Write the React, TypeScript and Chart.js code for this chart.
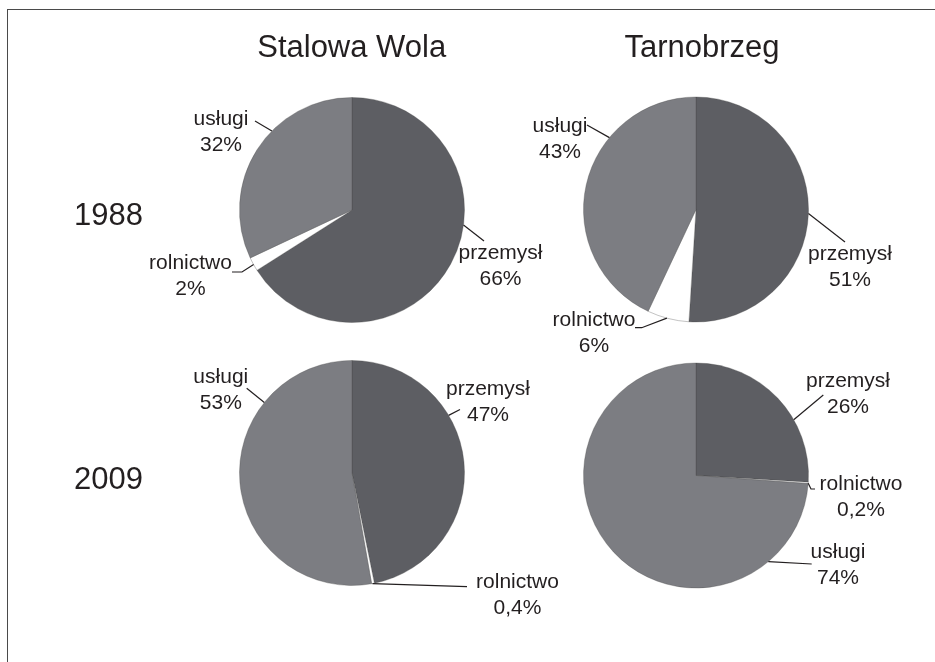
import React, { useEffect, useRef } from "react";
import { Chart, registerables } from "chart.js";

Chart.register(...registerables);

// ---------- data ----------
const sectors = ["przemysł", "rolnictwo", "usługi"];
const cities = ["Stalowa Wola", "Tarnobrzeg"];
const years = ["1988", "2009"];
const stalowaWola1988 = [66, 2, 32];
const tarnobrzeg1988 = [51, 6, 43];
const stalowaWola2009 = [47, 0.4, 53];
const tarnobrzeg2009 = [26, 0.2, 74];

const pies = [stalowaWola1988, tarnobrzeg1988, stalowaWola2009, tarnobrzeg2009];

// ---------- layout / style ----------
const W = 935;
const H = 662;
const R = 112.5;
const pieCenters: [number, number][] = [
  [352, 210],
  [696, 209.5],
  [352, 473],
  [696, 475.5],
];
const sliceColors = ["#5d5e63", "#ffffff", "#7c7d82"];
const TEXT = "#231f20";
const FONT = '"Liberation Sans", Arial, Helvetica, sans-serif';
const PCT_GAP = 25.8;

type Lbl = { x: number; y: number; angle: number; pts: [number, number][] };
// per pie: przemysł, rolnictwo, usługi
const labelLayout: Lbl[][] = [
  [
    { x: 500.5, y: 259, angle: 97.7, pts: [[484, 241]] },
    { x: 190.5, y: 269, angle: 241, pts: [[242, 272], [232, 272]] },
    { x: 221, y: 125, angle: 314.6, pts: [[255, 121]] },
  ],
  [
    { x: 850, y: 260, angle: 92, pts: [[845, 242]] },
    { x: 594, y: 326, angle: 195, pts: [[641.7, 327.7], [635, 327.7]] },
    { x: 560, y: 132, angle: 309.7, pts: [[587, 125]] },
  ],
  [
    { x: 488, y: 395, angle: 59.2, pts: [[460, 409.5]] },
    { x: 517.5, y: 588.3, angle: 169.5, pts: [[467, 586.7]] },
    { x: 220.8, y: 382.7, angle: 308.8, pts: [[246.7, 388.3]] },
  ],
  [
    { x: 848, y: 386.7, angle: 60.3, pts: [[823.3, 395]] },
    { x: 861, y: 490, angle: 94, pts: [[811, 489], [815, 489]] },
    { x: 838, y: 558.3, angle: 140, pts: [[811.7, 564]] },
  ],
];

const fmtPct = (v: number) => String(v).replace(".", ",") + "%";

function makeLabelPlugin(pieIndex: number) {
  return {
    id: "sliceLabels" + pieIndex,
    afterDraw(chart: any) {
      const ctx = chart.ctx as CanvasRenderingContext2D;
      const meta = chart.getDatasetMeta(0);
      const arc = meta.data[0] as any;
      const cx = arc.x;
      const cy = arc.y;
      const r = arc.outerRadius;
      const values = chart.data.datasets[0].data as number[];
      const labels = chart.data.labels as string[];
      ctx.save();
      ctx.strokeStyle = TEXT;
      ctx.lineWidth = 1.2;
      ctx.fillStyle = TEXT;
      ctx.font = `21px ${FONT}`;
      ctx.textAlign = "center";
      ctx.textBaseline = "alphabetic";
      labelLayout[pieIndex].forEach((l, i) => {
        const a = (l.angle * Math.PI) / 180;
        ctx.beginPath();
        ctx.moveTo(cx + r * Math.sin(a), cy - r * Math.cos(a));
        l.pts.forEach(([px, py]) => ctx.lineTo(px, py));
        ctx.stroke();
        ctx.fillText(labels[i], l.x, l.y);
        ctx.fillText(fmtPct(values[i]), l.x, l.y + PCT_GAP);
      });
      if (pieIndex === 0) {
        ctx.font = `31px ${FONT}`;
        ctx.textAlign = "center";
        ctx.fillText(cities[0], 351.7, 57);
        ctx.fillText(cities[1], 702, 57);
        ctx.textAlign = "left";
        ctx.fillText(years[0], 74, 225);
        ctx.fillText(years[1], 74, 489.3);
      }
      ctx.restore();
    },
  };
}

function PieCanvas({ index }: { index: number }) {
  const ref = useRef<HTMLCanvasElement | null>(null);
  useEffect(() => {
    if (!ref.current) return;
    const [cx, cy] = pieCenters[index];
    const chart = new Chart(ref.current, {
      type: "pie",
      data: {
        labels: sectors,
        datasets: [
          {
            data: pies[index],
            backgroundColor: sliceColors,
            borderColor: "rgba(70,70,70,0.55)",
            borderWidth: 0.6,
          },
        ],
      },
      options: {
        animation: false,
        responsive: false,
        events: [],
        radius: R,
        layout: {
          padding: { left: cx - R, right: W - cx - R, top: cy - R, bottom: H - cy - R },
        },
        plugins: {
          legend: { display: false },
          tooltip: { enabled: false },
          title: { display: false },
        },
      } as any,
      plugins: [makeLabelPlugin(index)],
    });
    return () => chart.destroy();
  }, [index]);
  return (
    <canvas
      ref={ref}
      width={W}
      height={H}
      style={{ position: "absolute", left: 0, top: 0, width: W, height: H }}
    />
  );
}

export default function App() {
  return (
    <div
      style={{
        position: "absolute",
        left: 0,
        top: 0,
        width: W,
        height: H,
        background: "#ffffff",
        overflow: "hidden",
      }}
    >
      <div
        style={{
          position: "absolute",
          left: 7,
          top: 9,
          width: W,
          height: H,
          borderLeft: "1.5px solid #4a4a4a",
          borderTop: "1.5px solid #4a4a4a",
        }}
      />
      {[0, 1, 2, 3].map((i) => (
        <PieCanvas key={i} index={i} />
      ))}
    </div>
  );
}
